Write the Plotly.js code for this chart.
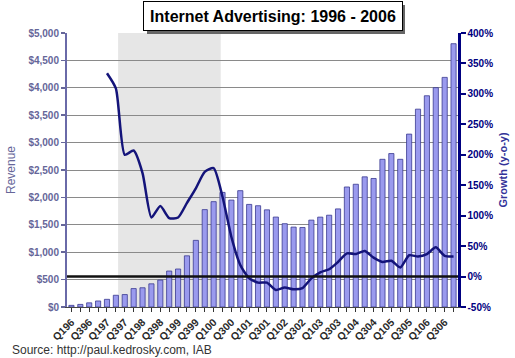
<!DOCTYPE html>
<html>
<head>
<meta charset="utf-8">
<script src="https://cdn.plot.ly/plotly-3.0.1.min.js"></script>
<style>
html,body{margin:0;padding:0;background:#fff;}
#chart{width:515px;height:358px;}
</style>
</head>
<body>
<div id="chart"></div>
<script>
// Quarters (category labels)
const quarters = [
  "Q196","Q296","Q396","Q496",
  "Q197","Q297","Q397","Q497",
  "Q198","Q298","Q398","Q498",
  "Q199","Q299","Q399","Q499",
  "Q100","Q200","Q300","Q400",
  "Q101","Q201","Q301","Q401",
  "Q102","Q202","Q302","Q402",
  "Q103","Q203","Q303","Q403",
  "Q104","Q204","Q304","Q404",
  "Q105","Q205","Q305","Q405",
  "Q106","Q206","Q306","Q406"
];

// Revenue ($ millions) per quarter
const revenue = [
  30, 47, 76, 110,
  140, 214, 227, 336,
  351, 423, 491, 656,
  693, 934, 1216, 1777,
  1922, 2091, 1951, 2123,
  1872, 1848, 1773, 1641,
  1520, 1458, 1451, 1585,
  1640, 1675, 1790, 2190,
  2240, 2375, 2345, 2695,
  2800, 2695, 3155, 3610,
  3855, 4003, 4190, 4805
];

// Year-over-year growth (%)
const growth = [
  null, null, null, null,
  334, 309, 200, 207,
  170, 97, 116, 96,
  97, 121, 145, 172,
  178, 131, 65, 19,
  -3, -10, -10, -22,
  -18, -21, -19, -3,
  7, 12, 24, 38,
  37, 42, 31, 24,
  26, 15, 35, 33,
  37, 48, 34, 33
];

// Axis tick values / labels
const revTicks = [0, 500, 1000, 1500, 2000, 2500, 3000, 3500, 4000, 4500, 5000];
const revTickText = ["$0","$500","$1,000","$1,500","$2,000","$2,500","$3,000","$3,500","$4,000","$4,500","$5,000"];
const growthTicks = [-50, 0, 50, 100, 150, 200, 250, 300, 350, 400];
const growthTickText = ["-50%","0%","50%","100%","150%","200%","250%","300%","350%","400%"];

// Shaded period (category index positions)
const shadeStart = 5.25;
const shadeEnd = 16.8;

const xTickText = quarters.map((q, i) => (i % 2 === 0 ? q : ""));

const font = "Arial, 'Liberation Sans', sans-serif";

const traces = [
  {
    type: "bar",
    x: quarters,
    y: revenue,
    name: "Revenue",
    marker: { color: "#9a9aee", line: { color: "#3a3a90", width: 0.8 } },
    yaxis: "y",
    hoverinfo: "x+y"
  },
  {
    type: "scatter",
    mode: "lines",
    x: quarters,
    y: growth,
    name: "Growth",
    yaxis: "y2",
    line: { color: "#14147a", width: 2.5, shape: "spline", smoothing: 0.6 },
    connectgaps: false
  }
];

const layout = {
  width: 515,
  height: 358,
  margin: { l: 67, r: 57, t: 33, b: 51 },
  paper_bgcolor: "#ffffff",
  plot_bgcolor: "#ffffff",
  showlegend: false,
  bargap: 0.42,
  font: { family: font, color: "#333333" },
  xaxis: {
    type: "category",
    tickvals: quarters,
    ticktext: xTickText,
    tickangle: -45,
    tickfont: { family: font, size: 10.5, color: "#2a2a2a", weight: "bold" },
    ticks: "outside",
    ticklen: 4,
    tickcolor: "#333333",
    showline: true,
    linecolor: "#444444",
    linewidth: 1,
    showgrid: false,
    zeroline: false,
    range: [-0.5, 43.5],
    fixedrange: true
  },
  yaxis: {
    range: [0, 5000],
    tickvals: revTicks,
    ticktext: revTickText,
    tickfont: { family: font, size: 10, color: "#666699", weight: "bold" },
    ticks: "outside",
    ticklen: 4,
    tickwidth: 1.5,
    tickcolor: "#666699",
    showline: true,
    linecolor: "#6a6aa8",
    linewidth: 2,
    showgrid: true,
    gridcolor: "#8a8a8a",
    gridwidth: 1,
    zeroline: false,
    title: { text: "Revenue", font: { family: font, size: 12, color: "#666699" }, standoff: 10 },
    fixedrange: true
  },
  yaxis2: {
    overlaying: "y",
    side: "right",
    range: [-50, 400],
    tickvals: growthTicks,
    ticktext: growthTickText,
    tickfont: { family: font, size: 10, color: "#000080", weight: "bold" },
    ticks: "outside",
    ticklen: 5,
    tickwidth: 2,
    tickcolor: "#000080",
    showline: true,
    linecolor: "#000080",
    linewidth: 2.5,
    showgrid: false,
    zeroline: false,
    title: { text: "Growth (y-o-y)", font: { family: font, size: 11, color: "#333399", weight: "bold" }, standoff: 7 },
    fixedrange: true
  },
  shapes: [
    {
      type: "rect", layer: "below",
      xref: "x", yref: "paper",
      x0: shadeStart, x1: shadeEnd, y0: 0, y1: 1,
      fillcolor: "#e6e6e6", line: { width: 0 }
    },
    {
      type: "line", layer: "above",
      xref: "paper", yref: "y2",
      x0: 0, x1: 1, y0: 0, y1: 0,
      line: { color: "#111111", width: 2.5 }
    },
    {
      type: "rect", layer: "above",
      xref: "paper", yref: "paper",
      x0: (147 - 67) / 391, x1: (405 - 67) / 391,
      y0: (307 - 34) / 274, y1: (307 - 5) / 274,
      fillcolor: "#666666", line: { width: 0 }
    }
  ],
  annotations: [
    {
      text: "<b>Internet Advertising: 1996 - 2006</b>",
      xref: "paper", yref: "paper",
      x: (272.5 - 67) / 391, y: (307 - 16.5) / 274,
      xanchor: "center", yanchor: "middle",
      showarrow: false,
      font: { family: font, size: 16, color: "#000000" },
      bgcolor: "#ffffff",
      bordercolor: "#000000",
      borderwidth: 1,
      width: 254,
      height: 24,
      borderpad: 2
    },
    {
      text: "Source: http://paul.kedrosky.com, IAB",
      xref: "paper", yref: "paper",
      x: (10 - 67) / 391, y: (307 - 350) / 274,
      xanchor: "left", yanchor: "middle",
      showarrow: false,
      font: { family: font, size: 12, color: "#333333" }
    }
  ]
};

Plotly.newPlot("chart", traces, layout, { staticPlot: true, displayModeBar: false });
</script>
</body>
</html>
